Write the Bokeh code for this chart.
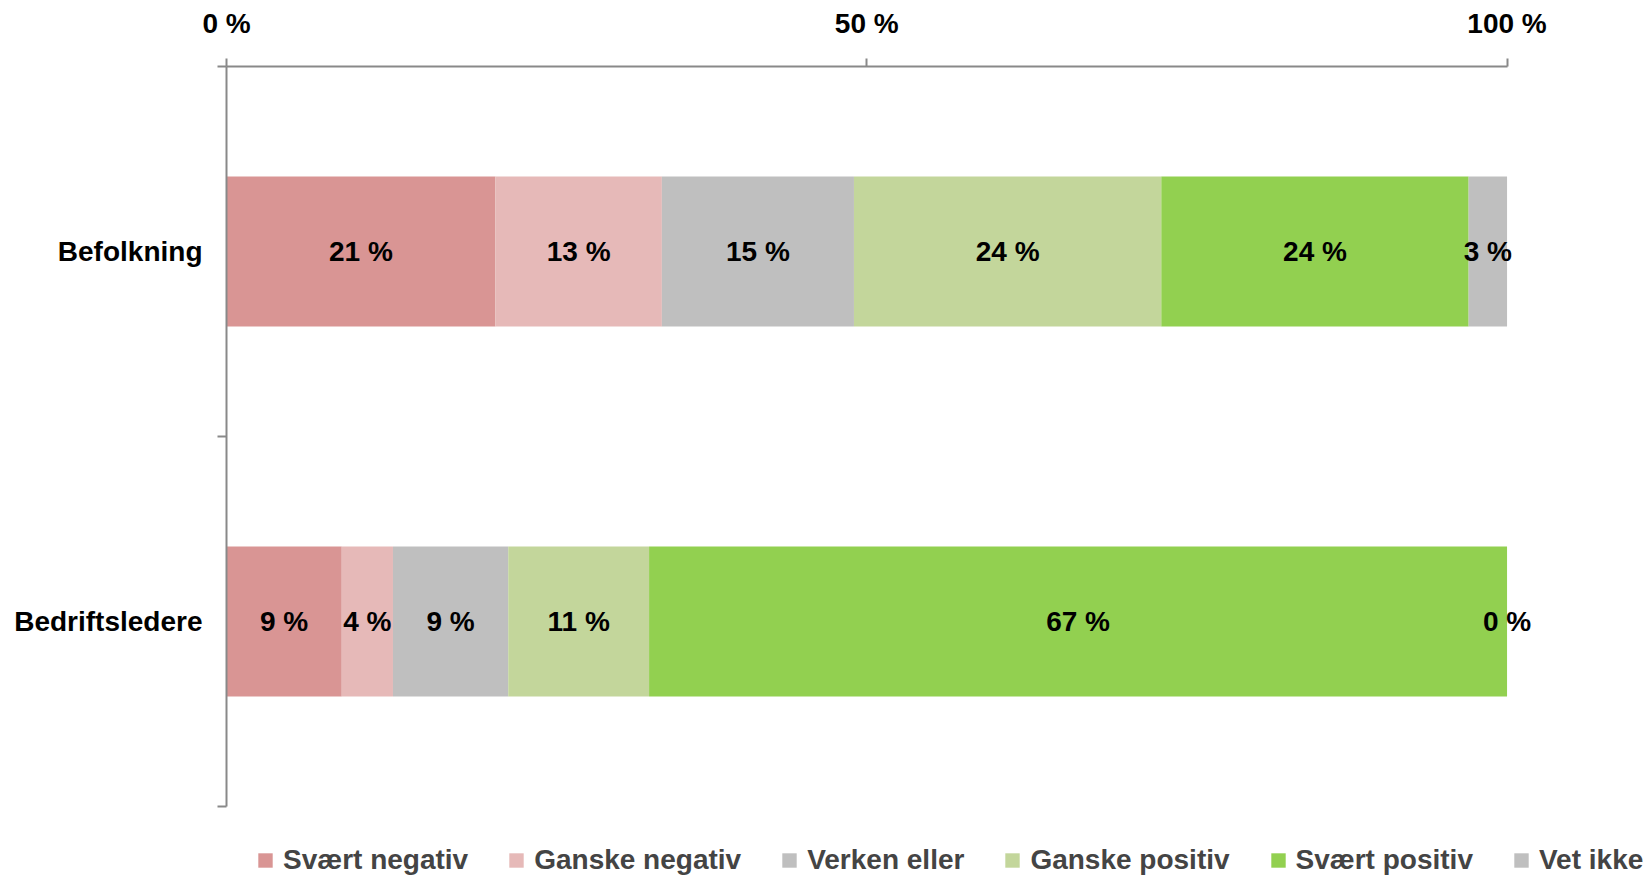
import numpy as np
from bokeh.plotting import figure
from bokeh.models import (Range1d, LinearAxis, FixedTicker, Legend,
                          LegendItem, ColumnDataSource)
from bokeh.core.properties import value
from bokeh.embed import file_html
from bokeh.resources import INLINE

# ---------------- data ----------------
categories = ["Bedriftsledere", "Befolkning"]          # bottom -> top
series_names = ["Svært negativ", "Ganske negativ", "Verken eller",
                "Ganske positiv", "Svært positiv", "Vet ikke"]
svaert_negativ = [9, 21]
ganske_negativ = [4, 13]
verken_eller = [9, 15]
ganske_positiv = [11, 24]
svaert_positiv = [67, 24]
vet_ikke = [0, 3]
colors = ["#D99594", "#E6B9B8", "#BFBFBF", "#C3D69B", "#92D050", "#BFBFBF"]
x_ticks = [0, 50, 100]
x_tick_labels = ["0 %", "50 %", "100 %"]

FONT = "Liberation Sans"
AXIS_GRAY = "#898989"
FS = "28px"

series = [svaert_negativ, ganske_negativ, verken_eller,
          ganske_positiv, svaert_positiv, vet_ikke]
keys = ["s%d" % i for i in range(len(series))]
n = len(categories)
slot_centres = [i + 0.5 for i in range(n)]       # category slot centres
slot_edges = list(range(n + 1))                  # category slot boundaries

W, H = 1646, 876
p = figure(width=W, height=H,
           y_range=Range1d(-0.1892, n),
           x_range=Range1d(0, 110.89),
           output_backend="svg", toolbar_location=None,
           x_axis_location=None, y_axis_location=None,
           min_border_left=226, min_border_right=0,
           min_border_top=66, min_border_bottom=0)
p.outline_line_color = None
p.grid.visible = False
p.background_fill_color = "white"

data = {"y": slot_centres}
for k, s in zip(keys, series):
    data[k] = s
src = ColumnDataSource(data)
rends = p.hbar_stack(keys, y="y", height=0.405, color=colors,
                     line_color=None, source=src)

# value labels centered in each segment
vals = np.array(series, dtype=float)          # shape (series, cats)
lefts = np.vstack([np.zeros(vals.shape[1]), np.cumsum(vals, axis=0)[:-1]])
mids = lefts + vals / 2.0
lx, ly, lt = [], [], []
for i in range(vals.shape[0]):
    for j in range(n):
        lx.append(mids[i, j])
        ly.append(slot_centres[j])
        lt.append("%d %%" % series[i][j])
p.text(x=lx, y=ly, text=lt, text_font=value(FONT), text_font_style="bold",
       text_font_size=FS, text_align="center", text_baseline="middle",
       text_color="black")

# top axis
xa = LinearAxis(ticker=FixedTicker(ticks=x_ticks, minor_ticks=[]),
                major_label_overrides=dict(zip(x_ticks, x_tick_labels)),
                bounds=(x_ticks[0], x_ticks[-1]))
xa.axis_line_color = AXIS_GRAY
xa.axis_line_width = 2
xa.major_tick_line_color = AXIS_GRAY
xa.major_tick_line_width = 2
xa.major_tick_out = 8
xa.major_tick_in = 0
xa.minor_tick_line_color = None
xa.major_label_text_font = FONT
xa.major_label_text_font_style = "bold"
xa.major_label_text_font_size = FS
xa.major_label_text_color = "black"
xa.major_label_standoff = 20
p.add_layout(xa, "above")

# left axis: labels at category centres, ticks at category boundaries
ya = LinearAxis(ticker=FixedTicker(ticks=slot_centres, minor_ticks=slot_edges),
                major_label_overrides=dict(zip(slot_centres, categories)),
                bounds=(0, n))
ya.axis_line_color = AXIS_GRAY
ya.axis_line_width = 2
ya.major_tick_line_color = None
ya.major_tick_out = 0
ya.major_tick_in = 0
ya.minor_tick_line_color = AXIS_GRAY
ya.minor_tick_line_width = 2
ya.minor_tick_out = 9
ya.minor_tick_in = 0
ya.major_label_text_font = FONT
ya.major_label_text_font_style = "bold"
ya.major_label_text_font_size = FS
ya.major_label_text_color = "black"
ya.major_label_standoff = 15
p.add_layout(ya, "left")

# legend
items = [LegendItem(label=name, renderers=[r]) for name, r in zip(series_names, rends)]
legend = Legend(items=items, orientation="horizontal", location=(30, 0),
                glyph_width=18, glyph_height=18, label_standoff=9, spacing=39,
                padding=0, margin=0, border_line_color=None,
                background_fill_alpha=0,
                label_text_font=FONT, label_text_font_style="bold",
                label_text_font_size=FS, label_height=14)
p.add_layout(legend, "center")

open("out.html", "w").write(file_html(p, INLINE))
